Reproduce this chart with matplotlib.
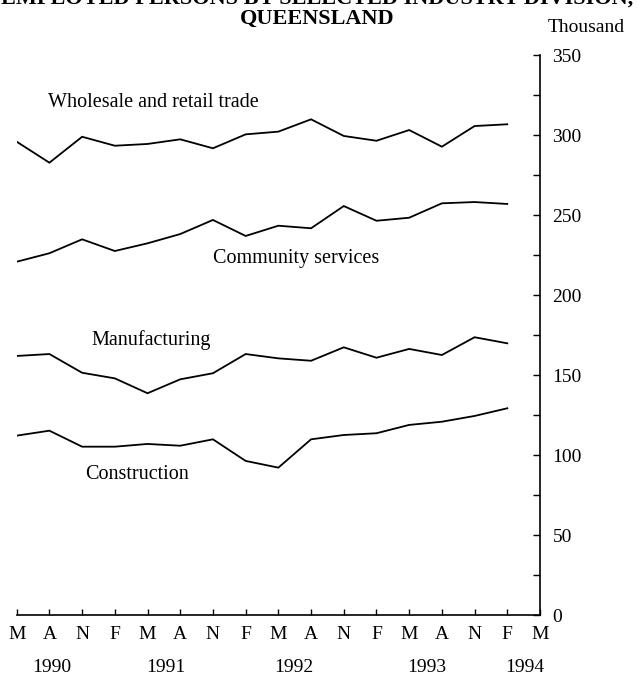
import matplotlib
matplotlib.use("Agg")
import matplotlib.pyplot as plt
from matplotlib.ticker import MultipleLocator

plt.rcParams['font.family'] = ['Liberation Serif', 'DejaVu Serif']

months = ["M", "A", "N", "F", "M", "A", "N", "F", "M", "A", "N", "F",
          "M", "A", "N", "F", "M"]
years = ["1990", "1991", "1992", "1993", "1994"]
year_pos = [1.07, 4.56, 8.46, 12.53, 15.53]

wholesale = [295.8, 282.7, 298.9, 293.3, 294.4, 297.3, 291.7, 300.4,
             302.1, 309.8, 299.4, 296.4, 303.1, 292.7, 305.6, 306.7]
community = [220.8, 226.1, 234.8, 227.5, 232.3, 238.1, 246.9, 236.9,
             243.3, 241.7, 255.6, 246.4, 248.3, 257.3, 258.1, 256.9]
manufacturing = [161.9, 163.1, 151.4, 147.9, 138.6, 147.3, 151.1, 163.1,
                 160.4, 158.9, 167.3, 160.8, 166.3, 162.5, 173.6, 169.8]
construction = [112.1, 115.2, 105.2, 105.2, 106.9, 105.8, 109.8, 96.3,
                92.1, 109.8, 112.5, 113.6, 118.8, 120.8, 124.4, 129.2]

series = [wholesale, community, manufacturing, construction]
labels = ["Wholesale and retail trade", "Community services",
          "Manufacturing", "Construction"]
label_pos = [(0.96, 320.6), (6.0, 222.5), (2.3, 171.9), (2.09, 88.1)]

fig = plt.figure(figsize=(6.38, 6.75), dpi=100)
ax = fig.add_axes([16.7 / 638, 60 / 675, 523.3 / 638, 560 / 675])

x = list(range(len(wholesale)))
for s in series:
    ax.plot(x, s, color="black", lw=1.3, solid_joinstyle="miter")

for lab, (lx, ly) in zip(labels, label_pos):
    ax.text(lx, ly, lab, ha="left", va="center", fontsize=14.5)

ax.set_xlim(0, 16)
ax.set_ylim(0, 350)

for side in ["left", "top"]:
    ax.spines[side].set_visible(False)
for side in ["right", "bottom"]:
    ax.spines[side].set_linewidth(1.2)

ax.yaxis.tick_right()
ax.yaxis.set_major_locator(MultipleLocator(50))
ax.yaxis.set_minor_locator(MultipleLocator(25))
ax.tick_params(axis="y", which="both", direction="in", length=5, width=1,
               labelsize=14, pad=9)
ax.set_xticks(range(len(months)))
ax.set_xticklabels(months)
ax.tick_params(axis="x", direction="in", length=4, width=1, labelsize=14,
               pad=8)

for yl, yp in zip(years, year_pos):
    ax.text(yp, -0.093, yl, transform=ax.get_xaxis_transform(),
            ha="center", va="center", fontsize=14)

fig.text(0.497, 1.0 + 1.5 / 675, "EMPLOYED PERSONS BY SELECTED INDUSTRY DIVISION,",
         ha="center", va="center", fontsize=16, fontweight="bold")
fig.text(0.497, 1.0 - 18.5 / 675, "QUEENSLAND", ha="center", va="center",
         fontsize=16, fontweight="bold")
fig.text(0.98, 1.0 - 28 / 675, "Thousand", ha="right", va="center",
         fontsize=14)

fig.savefig("out.png", dpi=100)
